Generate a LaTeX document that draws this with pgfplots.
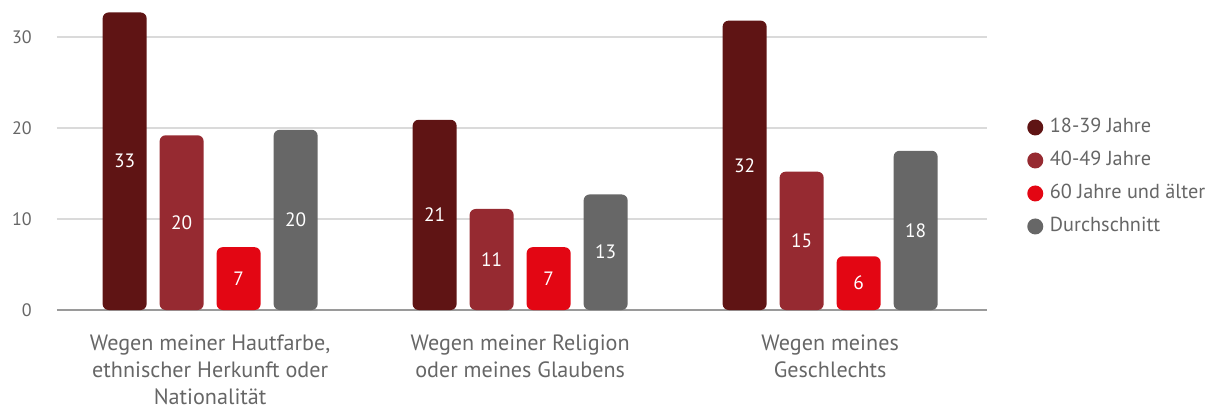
\documentclass[border=0pt]{standalone}
\usepackage{fontspec}
\setmainfont{PT Sans}
\usepackage{pgfplots}
\pgfplotsset{compat=1.18}
\definecolor{cA}{HTML}{5F1414}
\definecolor{cB}{HTML}{962A31}
\definecolor{cC}{HTML}{E30613}
\definecolor{cD}{HTML}{676767}
\definecolor{txt}{HTML}{666666}
\definecolor{gridc}{HTML}{DADADA}
\definecolor{axc}{HTML}{9A9A9A}
\begin{document}
\begin{tikzpicture}
\useasboundingbox (0,0) rectangle (906.75pt,306pt);
\begin{axis}[
  at={(42.75pt,73.5pt)}, anchor=south west,
  scale only axis, width=697.5pt, height=232.05pt,
  xmin=-0.494, xmax=2.506, ymin=0, ymax=34,
  clip=false,
  ybar, bar width=33pt,
  separate axis lines,
  axis x line*=bottom, axis y line*=left,
  y axis line style={draw=none},
  x axis line style={draw=axc, line width=1.1pt, -},
  major tick length=0pt,
  ytick={0,10,20,30},
  ymajorgrids, grid style={draw=gridc, line width=1.1pt},
  xtick={0,1,2},
  xticklabels={{Wegen meiner Hautfarbe,\\ethnischer Herkunft oder\\Nationalität},{Wegen meiner Religion\\oder meines Glaubens},{Wegen meines\\Geschlechts}},
  xticklabel style={align=center, anchor=north, inner sep=0pt, yshift=-18.5pt, font=\fontsize{16.6}{20.25}\selectfont, text=txt},
  yticklabel style={anchor=east, inner sep=0pt, xshift=-18.75pt, font=\fontsize{13.5}{16}\selectfont, text=txt},
  /pgf/number format/assume math mode=true,
  point meta=explicit symbolic,
  nodes near coords,
  visualization depends on={rawy \as \rawy},
  every node near coord/.append style={anchor=center, text=white, font=\fontsize{14.5}{16}\selectfont, yshift={-3.4125pt*\rawy}},
  every axis plot/.append style={draw=none, rounded corners=4.5pt},
  legend image code/.code={\fill[#1, draw=none] (0pt,0pt) circle (6pt);},
  legend cell align=left,
  legend style={at={(1.043,0.43)}, anchor=west, draw=none, fill=none, inner sep=0pt,
    font=\fontsize{15.2}{18}\selectfont, text=txt, row sep=12.75pt,
    nodes={inner sep=0pt, text height=9.5pt, text depth=2.5pt},
    /tikz/every odd column/.append style={column sep=5pt}},
]
\addplot[fill=cA, bar shift=-64.125pt] table[x=x, y=y, meta=l] {
x y l
0 32.7 33
1 20.9 21
2 31.8 32
};
\addplot[fill=cB, bar shift=-21.375pt] table[x=x, y=y, meta=l] {
x y l
0 19.2 20
1 11.1 11
2 15.2 15
};
\addplot[fill=cC, bar shift=21.375pt] table[x=x, y=y, meta=l] {
x y l
0 6.9 7
1 6.9 7
2 5.9 6
};
\addplot[fill=cD, bar shift=64.125pt] table[x=x, y=y, meta=l] {
x y l
0 19.8 20
1 12.7 13
2 17.5 18
};
\legend{18-39 Jahre, 40-49 Jahre, 60 Jahre und älter, Durchschnitt}
\end{axis}
\end{tikzpicture}
\end{document}
